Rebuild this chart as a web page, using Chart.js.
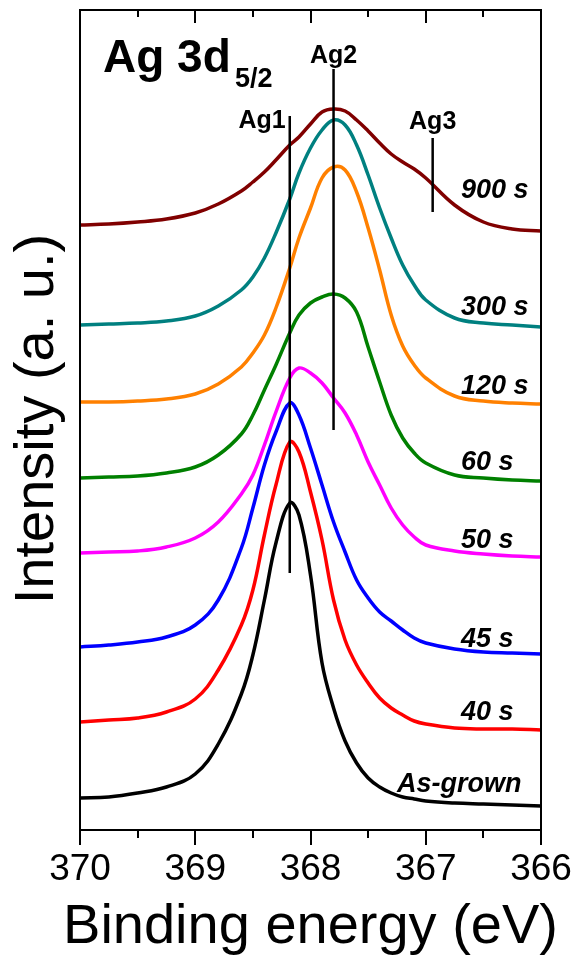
<!DOCTYPE html>
<html>
<head>
<meta charset="utf-8">
<title>Ag 3d5/2</title>
<script src="https://cdn.jsdelivr.net/npm/chart.js@4.4.1/dist/chart.umd.min.js"></script>
<style>
  html, body { margin: 0; padding: 0; background: #fff; }
  #wrap { width: 576px; height: 956px; }
</style>
</head>
<body>
<div id="wrap"><canvas id="xpsChart" width="576" height="956"></canvas></div>
<script>
// Binding energy grid (eV), high to low
const energy = [370, 369.75, 369.5, 369.25, 369.0, 368.8, 368.6, 368.5, 368.4, 368.3, 368.18, 368.1, 368.0,
                367.9, 367.8, 367.7, 367.6, 367.5, 367.4, 367.3, 367.2, 367.1, 367.0, 366.75, 366.5, 366.25, 366.0];

// Stacked intensities (a. u.), one array per annealing time
const s900 = [605, 606, 608, 611, 617, 626, 639, 648, 658, 670, 685, 693, 706, 718, 721, 719, 710, 699, 687, 676, 668, 661, 652, 625, 608, 601, 599];
const s300 = [505, 506, 507, 509, 514, 524, 540, 553, 572, 597, 631, 657, 682, 700, 710, 705, 685, 655, 622, 592, 565, 545, 530, 512, 507, 505, 503];
const s120 = [428, 428, 429, 431, 436, 446, 463, 477, 495, 522, 562, 592, 622, 652, 663, 660, 638, 602, 560, 515, 484, 465, 452, 434, 429, 427, 426];
const s60  = [352, 353, 354, 357, 363, 375, 396, 415, 440, 465, 497, 515, 527, 533, 536, 532, 518, 483, 448, 415, 392, 377, 367, 355, 352, 350, 349];
const s50  = [277, 278, 279, 283, 292, 308, 336, 355, 385, 418, 452, 462, 457, 447, 432, 417, 395, 368, 345, 322, 305, 293, 285, 279, 276, 274, 273];
const s45  = [183, 185, 188, 193, 205, 230, 282, 322, 365, 398, 427, 415, 382, 345, 308, 278, 250, 232, 218, 209, 200, 192, 187, 181, 178, 177, 176];
const s40  = [108, 110, 112, 118, 131, 160, 205, 240, 295, 345, 388, 378, 338, 290, 230, 190, 165, 147, 132, 122, 115, 109, 106, 102, 101, 101, 100];
const sAsGrown = [32, 33, 37, 43, 56, 86, 136, 175, 230, 287, 327, 315, 255, 167, 122, 89, 67, 52, 43, 37, 33, 31, 29, 27, 26, 25, 24];

const seriesNames = ['900 s', '300 s', '120 s', '60 s', '50 s', '45 s', '40 s', 'As-grown'];
const seriesValues = [s900, s300, s120, s60, s50, s45, s40, sAsGrown];
const seriesColors = ['#800000', '#008080', '#ff8000', '#008000', '#ff00ff', '#0000ff', '#ff0000', '#000000'];

// where each series label sits (energy of its left edge, intensity of its baseline)
const labelEnergy = [366.694, 366.694, 366.694, 366.694, 366.694, 366.694, 366.694, 367.25];
const labelLevel = [632, 515, 436, 360, 282, 183, 110, 38];

// Peak component markers
const markerNames = ['Ag1', 'Ag2', 'Ag3'];
const markerEnergy = [368.18, 367.80, 366.94];
const markerTop = [714, 761, 692];
const markerBottom = [257, 400, 618];

// x axis ticks
const majorTicks = [370, 369, 368, 367, 366];
const minorTicks = [369.5, 368.5, 367.5, 366.5];

const FONT = "'Liberation Sans', Arial, sans-serif";
Chart.defaults.font.family = FONT;
Chart.defaults.color = '#000';

const datasets = [];

markerNames.forEach((name, i) => {
    datasets.push({
        label: name,
        data: [
            { x: markerEnergy[i], y: markerBottom[i] },
            { x: markerEnergy[i], y: markerTop[i] }
        ],
        borderColor: '#000',
        borderWidth: 2.5,
        pointRadius: 0,
        order: 0
    });
});

seriesNames.forEach((name, i) => {
    datasets.push({
        label: name,
        data: energy.map((e, j) => ({ x: e, y: seriesValues[i][j] })),
        borderColor: seriesColors[i],
        borderWidth: 3.5,
        borderJoinStyle: 'round',
        pointRadius: 0,
        tension: 0.4,
        order: 1
    });
});

// frame, ticks and text annotations
const decorations = {
    id: 'decorations',
    afterDatasetsDraw(chart) {
        const { ctx, chartArea: a, scales: { x, y } } = chart;
        ctx.save();

        ctx.strokeStyle = '#000';
        ctx.lineWidth = 2;
        ctx.strokeRect(a.left, a.top, a.right - a.left, a.bottom - a.top);

        ctx.beginPath();
        majorTicks.forEach(v => {
            const px = Math.round(x.getPixelForValue(v));
            ctx.moveTo(px, a.bottom); ctx.lineTo(px, a.bottom + 15);
            ctx.moveTo(px, a.top); ctx.lineTo(px, a.top + 13);
        });
        minorTicks.forEach(v => {
            const px = Math.round(x.getPixelForValue(v));
            ctx.moveTo(px, a.bottom); ctx.lineTo(px, a.bottom + 8);
            ctx.moveTo(px, a.top); ctx.lineTo(px, a.top + 7);
        });
        ctx.stroke();

        ctx.fillStyle = '#000';
        ctx.textBaseline = 'alphabetic';

        // panel title
        ctx.textAlign = 'left';
        ctx.font = 'bold 46px ' + FONT;
        ctx.fillText('Ag 3d', a.left + 23, a.top + 62);
        ctx.font = 'bold 27px ' + FONT;
        ctx.fillText('5/2', a.left + 155, a.top + 77);

        // marker names
        ctx.font = 'bold 25px ' + FONT;
        ctx.textAlign = 'right';
        ctx.fillText(markerNames[0], x.getPixelForValue(markerEnergy[0]) - 4, y.getPixelForValue(markerTop[0]) + 12);
        ctx.textAlign = 'center';
        ctx.fillText(markerNames[1], x.getPixelForValue(markerEnergy[1]), y.getPixelForValue(markerTop[1]) - 6);
        ctx.fillText(markerNames[2], x.getPixelForValue(markerEnergy[2]), y.getPixelForValue(markerTop[2]) - 9);

        // series labels
        ctx.font = 'italic bold 27px ' + FONT;
        ctx.textAlign = 'left';
        seriesNames.forEach((name, i) => {
            ctx.fillText(name, x.getPixelForValue(labelEnergy[i]), y.getPixelForValue(labelLevel[i]));
        });

        // axis titles
        ctx.font = '56px ' + FONT;
        ctx.textAlign = 'center';
        ctx.fillText('Binding energy (eV)', (a.left + a.right) / 2, 943);

        ctx.textBaseline = 'middle';
        ctx.translate(a.left - 42, a.top + 409);
        ctx.rotate(-Math.PI / 2);
        ctx.fillText('Intensity (a. u.)', 0, 0);

        ctx.restore();
    }
};

new Chart(document.getElementById('xpsChart'), {
    type: 'line',
    data: { datasets: datasets },
    options: {
        responsive: false,
        animation: false,
        devicePixelRatio: 1,
        events: [],
        layout: { padding: { top: 10, right: 35, left: 0, bottom: 0 } },
        plugins: {
            legend: { display: false },
            tooltip: { enabled: false }
        },
        scales: {
            x: {
                type: 'linear',
                min: 366,
                max: 370,
                reverse: true,
                grid: { display: false, drawTicks: false },
                border: { display: false },
                ticks: {
                    stepSize: 1,
                    autoSkip: false,
                    maxRotation: 0,
                    padding: 21,
                    font: { size: 37, lineHeight: 1 },
                    color: '#000'
                },
                afterFit(scale) {
                    scale.height = 126;
                    scale.paddingLeft = 0;
                    scale.paddingRight = 0;
                }
            },
            y: {
                type: 'linear',
                min: 0,
                max: 820,
                grid: { display: false, drawTicks: false },
                border: { display: false },
                ticks: { display: false },
                afterFit(scale) { scale.width = 80; }
            }
        }
    },
    plugins: [decorations]
});
</script>
</body>
</html>
